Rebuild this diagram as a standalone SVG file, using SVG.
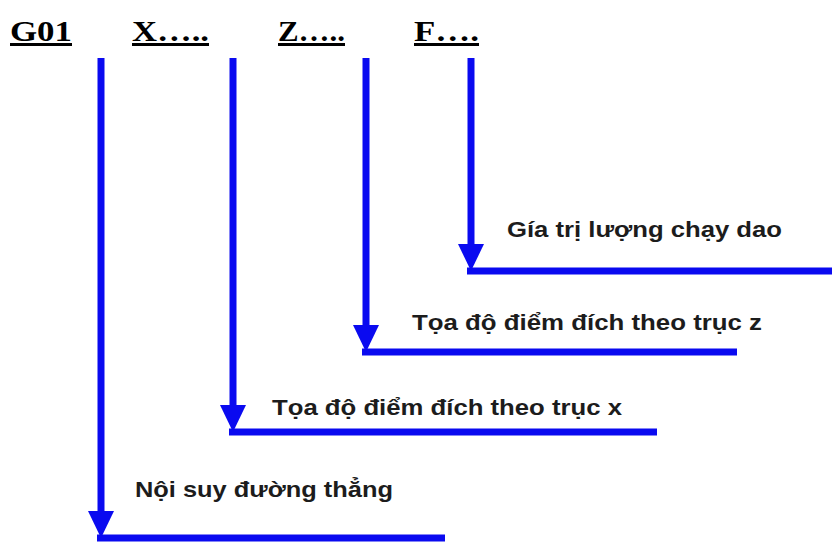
<svg xmlns="http://www.w3.org/2000/svg" xmlns:xlink="http://www.w3.org/1999/xlink" width="832" height="542" viewBox="0 0 832 542">
<style>
.hdr{font-family:"Liberation Serif","Times New Roman",serif;font-weight:bold;font-size:30px;fill:#000;text-decoration:underline}
.lbl{font-family:"Liberation Sans",Arial,sans-serif;font-weight:bold;font-size:22px;fill:#1c1c1c}
.ln{stroke:#0a0af0;stroke-width:7;fill:none}
.ah{fill:#0a0af0}
</style>
<defs>
<polygon id="ah" class="ah" points="-13,-27 13,-27 0,0"/>
</defs>
<rect width="832" height="542" fill="#fff"/>
<g id="header">
<text class="hdr" x="10" y="41" textLength="62" lengthAdjust="spacingAndGlyphs">G01</text>
<text class="hdr" x="132" y="41" textLength="77" lengthAdjust="spacingAndGlyphs">X…..</text>
<text class="hdr" x="278" y="41" textLength="67" lengthAdjust="spacingAndGlyphs">Z…..</text>
<text class="hdr" x="414" y="41" textLength="65" lengthAdjust="spacingAndGlyphs">F….</text>
</g>
<g id="connectors">
<path class="ln" d="M101,58 V515 M97,538 H445"/>
<use xlink:href="#ah" x="101" y="538"/>
<path class="ln" d="M233,58 V410 M229,432 H657"/>
<use xlink:href="#ah" x="233" y="432"/>
<path class="ln" d="M366,58 V330 M362,352 H737"/>
<use xlink:href="#ah" x="366" y="352"/>
<path class="ln" d="M471,58 V249 M467,271 H832"/>
<use xlink:href="#ah" x="471" y="271"/>
</g>
<g id="label-f"><text class="lbl" x="507" y="237" textLength="275" lengthAdjust="spacingAndGlyphs">Gía trị lượng chạy dao</text></g>
<g id="label-z"><text class="lbl" x="412" y="330" textLength="350" lengthAdjust="spacingAndGlyphs">Tọa độ điểm đích theo trục z</text></g>
<g id="label-x"><text class="lbl" x="272" y="415" textLength="350" lengthAdjust="spacingAndGlyphs">Tọa độ điểm đích theo trục x</text></g>
<g id="label-g01"><text class="lbl" x="135" y="497" textLength="258" lengthAdjust="spacingAndGlyphs">Nội suy đường thẳng</text></g>
</svg>
